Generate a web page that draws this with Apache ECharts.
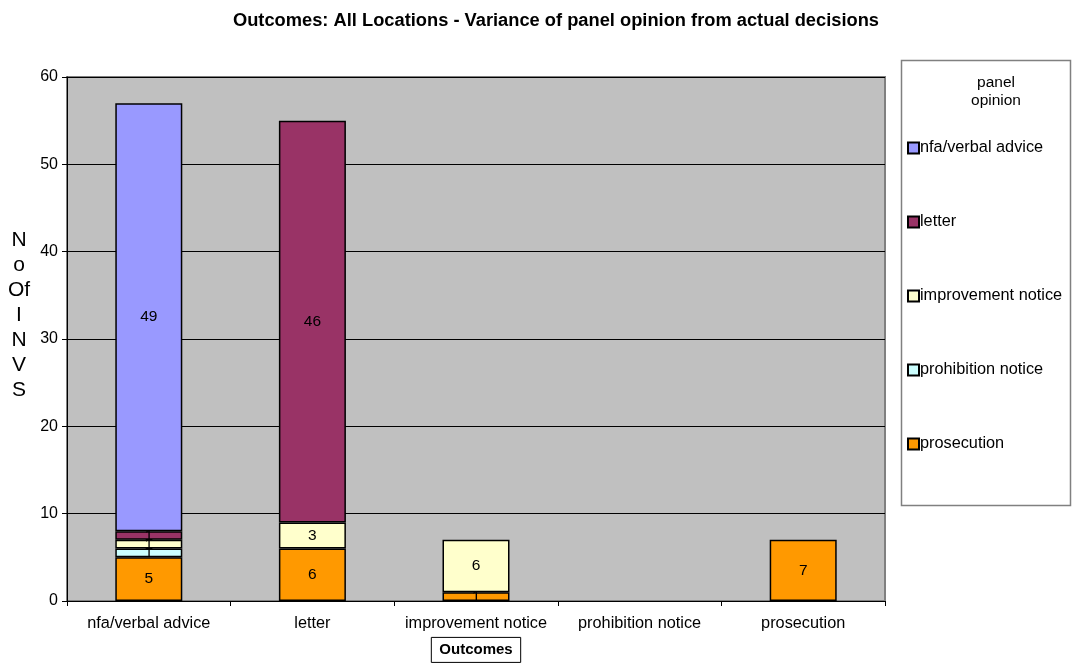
<!DOCTYPE html>
<html>
<head>
<meta charset="utf-8">
<script src="https://cdn.jsdelivr.net/npm/echarts@6/dist/echarts.min.js"></script>
<style>html,body{margin:0;padding:0;background:#fff}#c{width:1075px;height:664px}</style>
</head>
<body>
<div id="c"></div>
<script>
var categories = ['nfa/verbal advice', 'letter', 'improvement notice', 'prohibition notice', 'prosecution'];
var seriesNames = ['nfa/verbal advice', 'letter', 'improvement notice', 'prohibition notice', 'prosecution'];
var nfaValues = [49, null, null, null, null];
var letterValues = [1, 46, null, null, null];
var improvementValues = [1, 3, 6, null, null];
var prohibitionValues = [1, null, null, null, null];
var prosecutionValues = [5, 6, 1, null, 7];
var yTicks = { min: 0, max: 60, interval: 10 };
var titleText = 'Outcomes: All Locations - Variance of panel opinion from actual decisions';
var yName = 'N\no\nOf\nI\nN\nV\nS';
var xName = 'Outcomes';
var legendTitle = 'panel\nopinion';

var FONT = 'Liberation Sans, Arial, sans-serif';
var colors = {
  'nfa/verbal advice': '#9999FF',
  'letter': '#993366',
  'improvement notice': '#FFFFCC',
  'prohibition notice': '#CCFFFF',
  'prosecution': '#FF9900'
};

function mk(name, data) {
  return {
    name: name, type: 'bar', stack: 'all', data: data, barWidth: 67,
    itemStyle: { color: colors[name], borderColor: '#000', borderWidth: 1.5 },
    label: { show: true, position: 'inside', color: '#000', fontFamily: FONT, fontSize: 15.5 },
    emphasis: { disabled: true }
  };
}

var chart = echarts.init(document.getElementById('c'));
chart.setOption({
  animation: false,
  backgroundColor: '#fff',
  grid: { left: 67, right: 190, top: 77, bottom: 63, outerBoundsMode: 'none', containLabel: false, show: true, backgroundColor: '#C0C0C0', borderColor: '#808080', borderWidth: 2 },
  legend: {
    data: seriesNames, orient: 'vertical', left: 907, top: 140, itemGap: 58, padding: 0,
    itemWidth: 11, itemHeight: 11, icon: 'rect', selectedMode: false,
    textStyle: { fontFamily: FONT, fontSize: 16.3, color: '#000', padding: [0, 0, 0, -4] }
  },
  xAxis: {
    type: 'category', data: categories,
    axisLine: { lineStyle: { color: '#000', width: 1 } },
    axisTick: { show: true, length: 5, lineStyle: { color: '#000' } },
    axisLabel: { color: '#000', fontFamily: FONT, fontSize: 16.3, margin: 15, interval: 0 },
    name: xName, nameLocation: 'middle', nameGap: 36,
    nameTextStyle: { fontFamily: FONT, fontSize: 15, fontWeight: 'bold', color: '#000', borderColor: '#000', borderWidth: 1, padding: [5, 8, 5, 8] }
  },
  yAxis: {
    type: 'value', min: yTicks.min, max: yTicks.max, interval: yTicks.interval,
    axisLine: { show: true, lineStyle: { color: '#000', width: 1 } },
    axisTick: { show: true, length: 5, lineStyle: { color: '#000' } },
    axisLabel: { color: '#000', fontFamily: FONT, fontSize: 16, margin: 9 },
    splitLine: { show: true, lineStyle: { color: '#000', width: 1 } }
  },
  graphic: [
    { type: 'text', x: 556, y: 21, style: { text: titleText, textAlign: 'center', textVerticalAlign: 'middle', font: 'bold 18.3px ' + FONT, fill: '#000' } },
    { type: 'text', x: 19, y: 228, style: { text: yName, textAlign: 'center', textVerticalAlign: 'top', font: '21px ' + FONT, lineHeight: 25, fill: '#000' } },
    { type: 'rect', shape: { x: 901.5, y: 60.5, width: 169, height: 445 }, style: { fill: 'none', stroke: '#808080', lineWidth: 1.5 }, z: -1 },
    { type: 'text', x: 996, y: 74, style: { text: legendTitle, textAlign: 'center', textVerticalAlign: 'top', font: '15.5px ' + FONT, lineHeight: 18, fill: '#000' } }
  ],
  series: [
    mk('prosecution', prosecutionValues),
    mk('prohibition notice', prohibitionValues),
    mk('improvement notice', improvementValues),
    mk('letter', letterValues),
    mk('nfa/verbal advice', nfaValues)
  ]
});
</script>
</body>
</html>
